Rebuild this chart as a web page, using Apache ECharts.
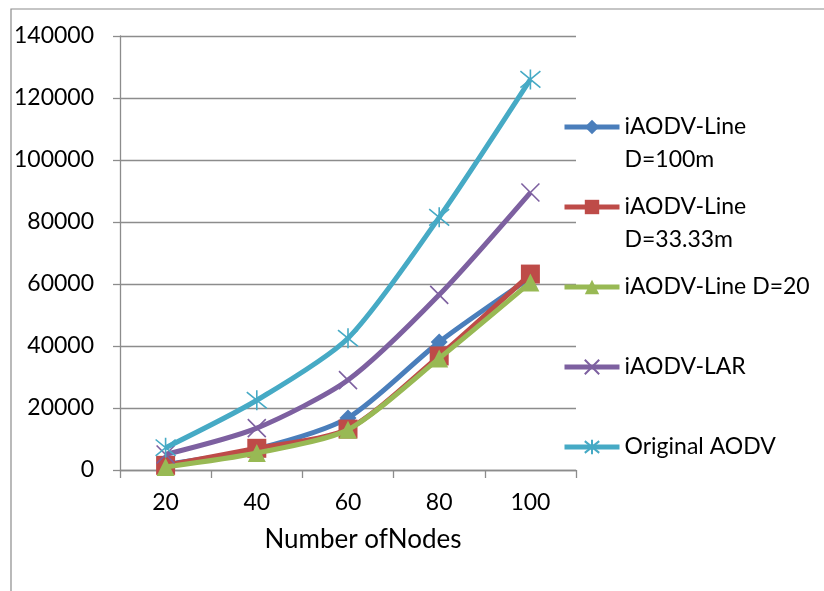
<!DOCTYPE html>
<html><head><meta charset="utf-8">
<script src="https://cdn.jsdelivr.net/npm/echarts@6/dist/echarts.min.js"></script>
<style>html,body{margin:0;padding:0;background:#fff}#c{width:824px;height:591px}</style>
</head><body><div id="c"></div>
<script>
const categories = ['20', '40', '60', '80', '100'];
const yTicks = [0, 20000, 40000, 60000, 80000, 100000, 120000, 140000];
const seriesNames = ['iAODV-Line D=100m', 'iAODV-Line D=33.33m', 'iAODV-Line D=20', 'iAODV-LAR', 'Original AODV'];
const legendLabels = ['iAODV-Line\nD=100m', 'iAODV-Line\nD=33.33m', 'iAODV-Line D=20', 'iAODV-LAR', 'Original AODV'];
const lineD100 = [1800, 6800, 16800, 41300, 62000];
const lineD33 = [1500, 7000, 13200, 36800, 63200];
const lineD20 = [1000, 5500, 13000, 36000, 60500];
const lar = [5000, 13500, 29000, 56500, 89500];
const aodv = [7200, 22500, 42500, 81500, 126000];
const xAxisTitle = 'Number ofNodes';

const colors = ['#4a7ebb', '#be4b48', '#98b954', '#7d60a0', '#46aac5'];
const FONT = 'Lato';
const xPath = 'path://M-9,-9L9,9M-9,9L9,-9';
const starPath = 'path://M-9,-9L9,9M-9,9L9,-9M0,-11L0,11';

const allData = [lineD100, lineD33, lineD20, lar, aodv];
const symbols = ['diamond', 'rect', 'triangle', xPath, starPath];
const sizes = [17, 19, 18, 18, 20];

const series = seriesNames.map((n, i) => {
  const stroke = i >= 3;
  return {
    name: n, type: 'line', data: allData[i], smooth: 0.25,
    symbol: symbols[i], symbolSize: sizes[i], showAllSymbol: true,
    lineStyle: { color: colors[i], width: 5 },
    itemStyle: stroke ? { color: colors[i], borderColor: colors[i], borderWidth: 1.6 } : { color: colors[i] },
    emphasis: { disabled: true }, z: 2 + i
  };
});

const legendCenters = [127, 207, 287, 367, 447];
const LH = 33;
const legends = seriesNames.map((n, i) => {
  const multi = legendLabels[i].indexOf('\n') >= 0;
  const h = multi ? LH * 3 : LH;
  return {
    data: [n], left: 562, top: legendCenters[i] - h / 2, padding: 0,
    orient: 'vertical', itemWidth: 55, itemHeight: 18, selectedMode: false,
    lineStyle: { width: 5 },
    formatter: () => (multi ? '\n' : '') + legendLabels[i],
    textStyle: { fontFamily: FONT, fontSize: 23, color: '#000', lineHeight: LH }
  };
});

const chart = echarts.init(document.getElementById('c'));
chart.setOption({
  animation: false,
  backgroundColor: '#fff',
  color: colors,
  graphic: [{ type: 'rect', shape: { x: 11, y: 9, width: 900, height: 700 }, style: { fill: 'none', stroke: '#8c8c8c', lineWidth: 1.2 }, silent: true }],
  legend: legends,
  grid: { left: 120, top: 36, right: 248, bottom: 121 },
  xAxis: {
    type: 'category', data: categories, boundaryGap: true,
    axisLine: { lineStyle: { color: '#8c8c8c', width: 1.3 } },
    axisTick: { show: true, length: 8, lineStyle: { color: '#8c8c8c', width: 1.3 } },
    axisLabel: { fontFamily: FONT, fontSize: 23, color: '#000', margin: 21 },
    name: xAxisTitle, nameLocation: 'middle', nameGap: 57,
    nameTextStyle: { fontFamily: FONT, fontSize: 26, color: '#000', padding: [0, 0, 0, 30] }
  },
  yAxis: {
    type: 'value', min: yTicks[0], max: yTicks[yTicks.length - 1], interval: 20000,
    axisLine: { show: true, lineStyle: { color: '#8c8c8c', width: 1.3 } },
    axisTick: { show: true, length: 7, lineStyle: { color: '#8c8c8c', width: 1.3 } },
    splitLine: { show: true, lineStyle: { color: '#8c8c8c', width: 1.3 } },
    axisLabel: { fontFamily: FONT, fontSize: 23, color: '#000', margin: 26, formatter: v => String(v) }
  },
  series: series
});
</script></body></html>
